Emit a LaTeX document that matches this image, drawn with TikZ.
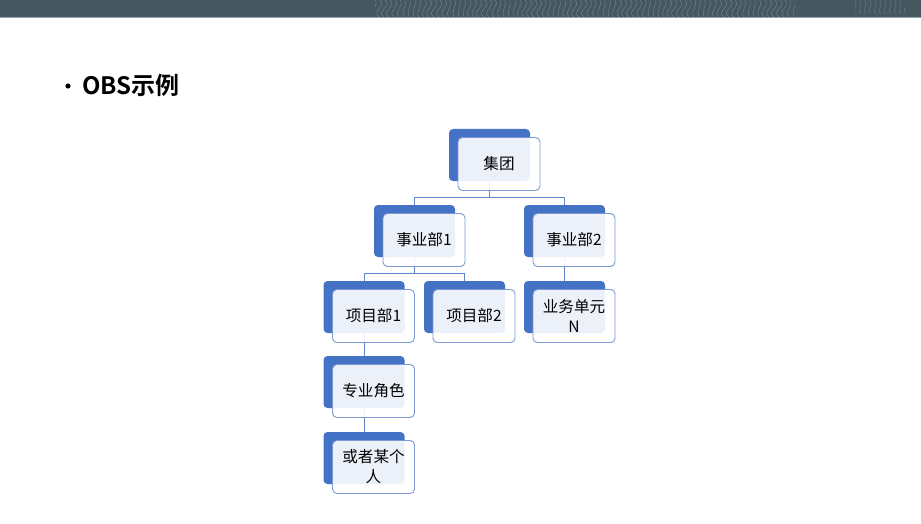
\documentclass[tikz,border=0pt]{standalone}
\usepackage{fontspec}
\newfontfamily\cjk{Noto Sans CJK SC}
\newfontfamily\cjkbold{Noto Sans CJK SC Bold}
\definecolor{obsblue}{HTML}{4472C4}
\definecolor{frontline}{HTML}{7D9AD6}
\definecolor{connblue}{HTML}{6283C9}
\definecolor{bannerc}{HTML}{46575F}
\definecolor{bannerline}{HTML}{8FA2A9}
\begin{document}
\begin{tikzpicture}[x=1pt,y=-1pt,
  backbox/.style={rectangle, rounded corners=4pt, fill=obsblue, minimum width=81pt, minimum height=52pt, inner sep=0pt},
  frontbox/.style={rectangle, rounded corners=4.5pt, fill=white, fill opacity=0.9, text opacity=1, draw=frontline, line width=0.9pt, minimum width=82pt, minimum height=53pt, inner sep=0pt, font=\cjk\fontsize{15.6}{20}\selectfont, align=center, text=black},
  connline/.style={draw=connblue, line width=0.9pt}]
\useasboundingbox (0,0) rectangle (921,524);
\fill[white] (0,0) rectangle (921,524);
% banner
\fill[bannerc] (0,0) rectangle (921,18);
\begin{scope}
  \clip (375,0) rectangle (795,17);
  \foreach \i in {0,...,85} {
    \pgfmathsetmacro{\dx}{3*sin(37*\i)}
    \draw[bannerline, opacity=0.6, line width=0.45pt] ({375+5*\i},0) .. controls ({380+5*\i+\dx},6) and ({368+5*\i-\dx},11) .. ({374+5*\i},17);
  }
\end{scope}
\begin{scope}
  \clip (855,0) rectangle (905,14);
  \foreach \i in {0,...,12} {
    \draw[bannerline, opacity=0.5, line width=0.4pt] ({855+5*\i},0) .. controls ({859+5*\i},5) and ({851+5*\i},9) .. ({856+5*\i},14);
  }
\end{scope}
\fill[bannerline] (0,17) rectangle (921,18);
% title
\fill[black] (68,86) circle (2.6pt);
\node[anchor=west, inner sep=0pt, font=\cjkbold\fontsize{24}{28}\selectfont] (title) at (82,85) {OBS示例};
% back boxes
\node[backbox] (b0) at (489.5,155) {};
\node[backbox] (b1) at (414.5,231) {};
\node[backbox] (b2) at (564.5,231) {};
\node[backbox] (b3) at (364,307) {};
\node[backbox] (b4) at (464.5,307) {};
\node[backbox] (b5) at (564.5,307) {};
\node[backbox] (b6) at (364,382) {};
\node[backbox] (b7) at (364,458) {};
% connectors
\draw[connline] (b0.south) -- ++(0,16) -| (b1.north);
\draw[connline] (b0.south) -- ++(0,16) -| (b2.north);
\draw[connline] (b1.south) -- ++(0,16) -| (b3.north);
\draw[connline] (b1.south) -- ++(0,16) -| (b4.north);
\draw[connline] (b2.south) -- (b5.north);
\draw[connline] (b3.south) -- (b6.north);
\draw[connline] (b6.south) -- (b7.north);
% front boxes
\node[frontbox] (f0) at (499,164) {集团};
\node[frontbox] (f1) at (424,240) {事业部1};
\node[frontbox] (f2) at (574,240) {事业部2};
\node[frontbox] (f3) at (373.5,316) {项目部1};
\node[frontbox] (f4) at (474,316) {项目部2};
\node[frontbox] (f5) at (574,316) {业务单元\\N};
\node[frontbox] (f6) at (373.5,391) {专业角色};
\node[frontbox] (f7) at (373.5,467) {或者某个\\人};
\end{tikzpicture}
\end{document}
